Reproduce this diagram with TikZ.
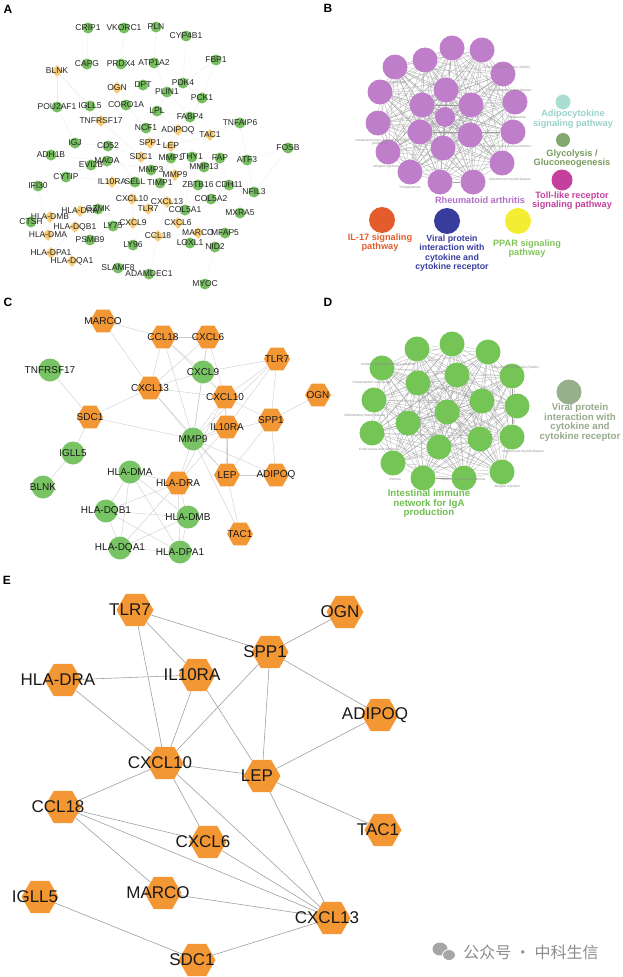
\documentclass[tikz,border=0pt]{standalone}
\usepackage{fontspec}
\setmainfont{Liberation Sans}
\newfontfamily\cjk{Noto Sans CJK SC}
\usetikzlibrary{shapes.geometric,backgrounds}
\definecolor{hexorange}{RGB}{243,150,52}
\definecolor{agreen}{RGB}{118,190,96}
\definecolor{ayellow}{RGB}{246,204,120}
\definecolor{cgreen}{RGB}{120,196,100}
\definecolor{bpurple}{RGB}{191,126,201}
\definecolor{dgreen}{RGB}{116,196,86}
\definecolor{adipoc}{RGB}{170,222,210}
\definecolor{adipot}{RGB}{150,210,200}
\definecolor{glycoc}{RGB}{130,168,110}
\definecolor{glycot}{RGB}{120,155,95}
\definecolor{tollc}{RGB}{196,64,156}
\definecolor{rheumt}{RGB}{180,110,200}
\definecolor{ilc}{RGB}{226,92,44}
\definecolor{viralc}{RGB}{56,60,156}
\definecolor{pparc}{RGB}{244,238,50}
\definecolor{ppart}{RGB}{130,196,90}
\definecolor{dviralc}{RGB}{150,176,140}
\definecolor{dviralt}{RGB}{150,170,140}
\definecolor{digat}{RGB}{112,190,80}

\def\circA{a-crip1/88/28/CRIP1, a-vkorc1/124/28/VKORC1, a-pln/156/27/PLN, a-cyp4b1/186/36/CYP4B1,
  a-capg/87/64/CAPG, a-prdx4/121/64/PRDX4, a-atp1a2/154/63/ATP1A2, a-fbp1/216/60/FBP1,
  a-dpt/143/85/DPT, a-pdk4/183/83/PDK4, a-plin1/167/92/PLIN1, a-pck1/202/98/PCK1,
  a-pou2af1/57/107/POU2AF1, a-igll5/90/106/IGLL5, a-coro1a/126/105/CORO1A, a-lpl/157/111/LPL,
  a-fabp4/190/117/FABP4, a-ncf1/146/128/NCF1, a-tnfaip6/240/123/TNFAIP6, a-igj/75/143/IGJ,
  a-cd52/108/146/CD52, a-fosb/288/148/FOSB, a-adh1b/51/155/ADH1B, a-maoa/107/161/MAOA,
  a-evi2b/91/165/EVI2B, a-mmp1/171/158/MMP1, a-thy1/192/157/THY1, a-fap/220/158/FAP,
  a-atf3/247/160/ATF3, a-mmp13/204/167/MMP13, a-mmp3/151/170/MMP3, a-cytip/66/177/CYTIP,
  a-ifi30/38/186/IFI30, a-sell/135/182/SELL, a-timp1/160/183/TIMP1, a-zbtb16/198/185/ZBTB16,
  a-cdh11/229/185/CDH11, a-nfil3/254/192/NFIL3, a-col5a2/211/199/COL5A2, a-col5a1/185/210/COL5A1,
  a-mxra5/240/213/MXRA5, a-gzmk/98/209/GZMK, a-ctsh/31/222/CTSH, a-ly75/113/226/LY75,
  a-psmb9/90/240/PSMB9, a-mfap5/225/233/MFAP5, a-loxl1/190/243/LOXL1, a-ly96/133/245/LY96,
  a-nid2/215/247/NID2, a-slamf8/118/268/SLAMF8, a-adamdec1/149/274/ADAMDEC1, a-myoc/205/284/MYOC}
\def\diamA{a-blnk/57/71/BLNK, a-ogn/117/88/OGN, a-tnfrsf17/101/121/TNFRSF17, a-adipoq/178/130/ADIPOQ,
  a-tac1/210/135/TAC1, a-spp1/150/143/SPP1, a-lep/171/146/LEP, a-sdc1/141/157/SDC1,
  a-mmp9/175/175/MMP9, a-il10ra/112/182/IL10RA, a-cxcl10/132/199/CXCL10, a-cxcl13/167/202/CXCL13,
  a-tlr7/148/209/TLR7, a-hladra/80/211/HLA-DRA, a-hladmb/50/217/HLA-DMB, a-hladqb1/75/227/HLA-DQB1,
  a-cxcl9/133/223/CXCL9, a-cxcl6/178/223/CXCL6, a-hladma/48/235/HLA-DMA, a-ccl18/158/236/CCL18,
  a-marco/198/233/MARCO, a-hladpa1/51/253/HLA-DPA1, a-hladqa1/72/261/HLA-DQA1}
\def\hexC{c-marco/103/321/MARCO, c-ccl18/163/337/CCL18, c-cxcl6/208/337/CXCL6, c-tlr7/277/359/TLR7,
  c-cxcl13/150/388/CXCL13, c-cxcl10/225/397/CXCL10, c-ogn/318/395/OGN, c-sdc1/90/417/SDC1,
  c-spp1/271/420/SPP1, c-il10ra/227/427/IL10RA, c-lep/227/475/LEP, c-adipoq/276/475/ADIPOQ,
  c-hladra/178/483/HLA-DRA, c-tac1/240/534/TAC1}
\def\circC{c-tnfrsf17/50/370/TNFRSF17, c-cxcl9/203/372/CXCL9, c-mmp9/193/439/MMP9, c-igll5/73/453/IGLL5,
  c-hladma/130/472/HLA-DMA, c-blnk/43/487/BLNK, c-hladqb1/106/511/HLA-DQB1, c-hladmb/188/517/HLA-DMB,
  c-hladqa1/120/548/HLA-DQA1, c-hladpa1/180/552/HLA-DPA1}
\def\hexE{e-tlr7/135/610/TLR7, e-spp1/270/652/SPP1, e-il10ra/197/675/IL10RA, e-hladra/63/680/HLA-DRA,
  e-cxcl10/165/763/CXCL10, e-lep/262/776/LEP, e-ogn/345/612/OGN, e-adipoq/380/715/ADIPOQ,
  e-ccl18/63/807/CCL18, e-cxcl6/208/842/CXCL6, e-marco/163/893/MARCO, e-igll5/40/897/IGLL5,
  e-sdc1/197/960/SDC1, e-cxcl13/332/918/CXCL13, e-tac1/383/830/TAC1}

\begin{document}
\begin{tikzpicture}[x=1pt, y=-1pt,
  panel/.style={font=\bfseries\fontsize{12}{12}\selectfont, inner sep=0pt},
  acirc/.style={circle, fill=agreen, minimum size=11pt, inner sep=0pt},
  adiam/.style={diamond, fill=ayellow, minimum size=12pt, inner sep=0pt},
  alab/.style={font=\fontsize{8.5}{8.5}\selectfont, text=black!85, inner sep=0pt},
  aedge/.style={draw=black!8, line width=0.3pt},
  bcirc/.style={circle, fill=bpurple, minimum size=25pt, inner sep=0pt},
  dcirc/.style={circle, fill=dgreen, minimum size=25pt, inner sep=0pt},
  bmesh/.style={draw=black!40, line width=0.2pt},
  minilab/.style={font=\fontsize{3.3}{3.3}\selectfont, text=black!45, inner sep=0pt},
  termlab/.style={font=\bfseries\fontsize{9.2}{9.5}\selectfont, align=center, inner sep=0pt},
  chex/.style={regular polygon, regular polygon sides=6, minimum size=26pt, inner sep=0pt, fill=hexorange},
  ccirc/.style={circle, fill=cgreen, minimum size=23pt, inner sep=0pt},
  clab/.style={font=\fontsize{10}{10}\selectfont, text=black!90, inner sep=0pt},
  cedge/.style={draw=black!20, line width=0.4pt},
  ehex/.style={regular polygon, regular polygon sides=6, minimum size=37pt, inner sep=0pt, fill=hexorange},
  elab/.style={font=\fontsize{17}{17}\selectfont, text=black!90, inner sep=0pt, xshift=-5pt},
  eedge/.style={draw=black!40, line width=0.55pt}]
\useasboundingbox (0,0) rectangle (623,977);

\node[panel] at (8,9) {A};
\node[panel] at (328,8) {B};
\node[panel] at (8,302) {C};
\node[panel] at (328,302) {D};
\node[panel] at (7,580) {E};

% A
\foreach \nm/\px/\py/\txt in \circA {\node[acirc] (\nm) at (\px,\py) {};}
\foreach \nm/\px/\py/\txt in \diamA {\node[adiam] (\nm) at (\px,\py) {};}
\begin{pgfonlayer}{background}
\foreach \u/\v in {a-crip1/a-capg, a-vkorc1/a-prdx4, a-pln/a-atp1a2, a-cyp4b1/a-pdk4, a-fbp1/a-pck1,
  a-fbp1/a-pdk4, a-atp1a2/a-plin1, a-blnk/a-pou2af1, a-blnk/a-igll5, a-blnk/a-tnfrsf17, a-pdk4/a-plin1,
  a-pdk4/a-pck1, a-plin1/a-lpl, a-plin1/a-fabp4, a-lpl/a-fabp4, a-pck1/a-fabp4, a-fabp4/a-adipoq,
  a-adipoq/a-lep, a-lpl/a-adipoq, a-lep/a-spp1, a-ogn/a-dpt, a-dpt/a-coro1a, a-coro1a/a-ncf1,
  a-ncf1/a-spp1, a-tnfrsf17/a-sdc1, a-igj/a-pou2af1, a-igj/a-cd52, a-cd52/a-sell, a-maoa/a-mmp3,
  a-sdc1/a-mmp9, a-mmp3/a-mmp1, a-mmp1/a-mmp9, a-mmp1/a-timp1, a-mmp9/a-timp1, a-mmp13/a-mmp9,
  a-thy1/a-fap, a-fap/a-mmp13, a-thy1/a-col5a1, a-col5a2/a-col5a1, a-col5a2/a-cdh11, a-cdh11/a-fap,
  a-atf3/a-fosb, a-atf3/a-nfil3, a-fosb/a-nfil3, a-tnfaip6/a-tac1, a-tnfaip6/a-atf3, a-cxcl10/a-cxcl9,
  a-cxcl10/a-tlr7, a-cxcl10/a-il10ra, a-cxcl10/a-cxcl13, a-cxcl13/a-ccl18, a-cxcl6/a-ccl18,
  a-marco/a-ccl18, a-ly96/a-tlr7, a-slamf8/a-adamdec1, a-hladra/a-hladmb, a-hladmb/a-hladma,
  a-hladqb1/a-hladpa1, a-hladqa1/a-hladpa1, a-hladra/a-hladqb1, a-ctsh/a-hladmb, a-ifi30/a-hladma,
  a-psmb9/a-ly75, a-gzmk/a-hladra, a-cytip/a-sell, a-evi2b/a-cytip, a-loxl1/a-mfap5, a-mfap5/a-nid2,
  a-nid2/a-myoc, a-mxra5/a-col5a2, a-zbtb16/a-mmp9, a-ly75/a-cxcl9, a-il10ra/a-sell, a-adh1b/a-maoa,
  a-lep/a-mmp9, a-tac1/a-lep, a-cxcl13/a-mmp9, a-cd52/a-sdc1, a-ccl18/a-adamdec1, a-psmb9/a-hladma}
  {\draw[aedge] (\u) -- (\v);}
\end{pgfonlayer}
\foreach \nm/\px/\py/\txt in \circA {\node[alab] at (\nm) {\txt};}
\foreach \nm/\px/\py/\txt in \diamA {\node[alab] at (\nm) {\txt};}

% B
\foreach \i/\px/\py in {1/452/48, 2/482/50, 3/425/60, 4/503/74, 5/395/67, 6/446/90, 7/380/92,
  8/515/102, 9/422/105, 10/471/105, 12/378/123, 13/420/132, 14/470/135, 15/513/132, 16/388/152,
  17/443/148, 18/502/163, 19/410/172, 20/440/182, 21/473/182}
  {\node[bcirc] (b\i) at (\px,\py) {};}
\node[bcirc, minimum size=20pt] (b11) at (445,117) {};
\begin{pgfonlayer}{background}
\foreach \i in {1,...,20}{
  \pgfmathtruncatemacro{\jfirst}{\i+1}
  \foreach \j in {\jfirst,...,21}{\draw[bmesh] (b\i) -- (b\j);}}
\end{pgfonlayer}
\node[minilab] at (410,188) {Toxoplasmosis};
\node[minilab] at (386,167) {Allograft rejection};
\node[minilab, align=center] at (380,142) {Intestinal immune network for IgA\\production};
\node[minilab] at (395,82) {Leishmaniasis};
\node[minilab] at (506,68) {Cell adhesion molecules (CAMs)};
\node[minilab] at (511,91) {Inflammatory bowel disease};
\node[minilab] at (517,118) {Phagosome};
\node[minilab] at (507,147) {Staphylococcus aureus infection};
\node[minilab] at (510,180) {Autoimmune thyroid disease};

\node[circle, fill=adipoc, minimum size=15pt, inner sep=0pt] (b-adipo) at (563,102) {};
\node[termlab, text=adipot] at (573,119) {Adipocytokine\\signaling pathway};
\node[circle, fill=glycoc, minimum size=14pt, inner sep=0pt] (b-glyco) at (563,140) {};
\node[termlab, text=glycot] at (572,158.5) {Glycolysis /\\Gluconeogenesis};
\node[circle, fill=tollc, minimum size=21pt, inner sep=0pt] (b-toll) at (562,180) {};
\node[termlab, text=tollc] at (572,200.5) {Toll-like receptor\\signaling pathway};
\node[termlab, text=rheumt] at (480,200) {Rheumatoid arthritis};
\node[circle, fill=ilc, minimum size=26pt, inner sep=0pt] (b-il17) at (382,220) {};
\node[termlab, text=ilc] at (380,242.5) {IL-17 signaling\\pathway};
\node[circle, fill=viralc, minimum size=26pt, inner sep=0pt] (b-viral) at (447,221) {};
\node[termlab, text=viralc, font=\bfseries\fontsize{8.8}{9.5}\selectfont] at (452,253) {Viral protein\\interaction with\\cytokine and\\cytokine receptor};
\node[circle, fill=pparc, minimum size=26pt, inner sep=0pt] (b-ppar) at (518,221) {};
\node[termlab, text=ppart] at (527,248.5) {PPAR signaling\\pathway};

% C
\foreach \nm/\px/\py/\txt in \hexC {\node[chex] (\nm) at (\px,\py) {};}
\foreach \nm/\px/\py/\txt in \circC {\node[ccirc] (\nm) at (\px,\py) {};}
\begin{pgfonlayer}{background}
\foreach \u/\v in {c-tlr7/c-spp1, c-tlr7/c-il10ra, c-tlr7/c-cxcl10, c-spp1/c-ogn, c-spp1/c-adipoq,
  c-spp1/c-cxcl10, c-spp1/c-lep, c-il10ra/c-hladra, c-il10ra/c-cxcl10, c-il10ra/c-lep,
  c-hladra/c-cxcl10, c-cxcl10/c-lep, c-cxcl10/c-ccl18, c-cxcl10/c-cxcl6, c-cxcl10/c-cxcl13,
  c-lep/c-adipoq, c-lep/c-tac1, c-lep/c-cxcl13, c-ccl18/c-cxcl6, c-ccl18/c-marco, c-ccl18/c-cxcl13,
  c-cxcl6/c-cxcl13, c-marco/c-cxcl13, c-sdc1/c-cxcl13, c-igll5/c-sdc1, c-tnfrsf17/c-sdc1,
  c-igll5/c-blnk, c-sdc1/c-mmp9, c-cxcl9/c-tlr7, c-cxcl9/c-cxcl13, c-cxcl9/c-cxcl10, c-cxcl9/c-mmp9,
  c-cxcl9/c-cxcl6, c-cxcl9/c-ccl18, c-mmp9/c-cxcl13, c-mmp9/c-cxcl10, c-mmp9/c-il10ra, c-mmp9/c-lep,
  c-mmp9/c-adipoq, c-mmp9/c-tac1, c-mmp9/c-hladra, c-mmp9/c-ccl18, c-mmp9/c-cxcl6, c-mmp9/c-spp1,
  c-mmp9/c-tlr7, c-hladma/c-hladra, c-hladma/c-hladqb1, c-hladma/c-hladmb, c-hladma/c-hladqa1,
  c-hladma/c-hladpa1, c-hladra/c-hladqb1, c-hladra/c-hladmb, c-hladra/c-hladqa1, c-hladra/c-hladpa1,
  c-hladqb1/c-hladmb, c-hladqb1/c-hladqa1, c-hladqb1/c-hladpa1, c-hladmb/c-hladqa1,
  c-hladmb/c-hladpa1, c-hladqa1/c-hladpa1}
  {\draw[cedge] (\u) -- (\v);}
\end{pgfonlayer}
\foreach \nm/\px/\py/\txt in \hexC {\node[clab] at (\nm) {\txt};}
\foreach \nm/\px/\py/\txt in \circC {\node[clab] at (\nm) {\txt};}

% D
\foreach \i/\px/\py in {1/452/344, 2/417/349, 3/488/352, 4/382/368, 5/457/375, 6/512/376,
  7/418/383, 8/374/400, 9/482/401, 10/517/406, 11/447/412, 12/408/423, 13/372/433, 14/480/439,
  15/512/437, 16/439/447, 17/393/463, 18/423/478, 19/464/478, 20/502/472}
  {\node[dcirc] (d\i) at (\px,\py) {};}
\begin{pgfonlayer}{background}
\foreach \i in {1,...,19}{
  \pgfmathtruncatemacro{\jfirst}{\i+1}
  \foreach \j in {\jfirst,...,20}{\draw[bmesh] (d\i) -- (d\j);}}
\end{pgfonlayer}
\node[minilab] at (388,365) {Antigen processing and presentation};
\node[minilab] at (515,368) {Cell adhesion molecules (CAMs)};
\node[minilab] at (372,383) {Hematopoietic cell lineage};
\node[minilab] at (365,416) {Inflammatory bowel disease};
\node[minilab] at (378,449) {Graft-versus-host disease};
\node[minilab] at (395,479) {Asthma};
\node[minilab] at (463,480) {Systemic lupus erythematosus};
\node[minilab] at (507,487) {Allograft rejection};
\node[minilab] at (523,452) {Autoimmune thyroid disease};
\node[circle, fill=dviralc, minimum size=25pt, inner sep=0pt] (d-viral) at (569,392) {};
\node[termlab, text=dviralt, font=\bfseries\fontsize{9.7}{9.5}\selectfont] at (580,422.5) {Viral protein\\interaction with\\cytokine and\\cytokine receptor};
\node[termlab, text=digat, font=\bfseries\fontsize{9.7}{9.5}\selectfont] at (429,503.5) {Intestinal immune\\network for IgA\\production};

% E
\foreach \nm/\px/\py/\txt in \hexE {\node[ehex] (\nm) at (\px,\py) {};}
\begin{pgfonlayer}{background}
\foreach \u/\v in {e-tlr7/e-spp1, e-tlr7/e-il10ra, e-tlr7/e-cxcl10, e-spp1/e-ogn, e-spp1/e-adipoq,
  e-spp1/e-cxcl10, e-spp1/e-lep, e-il10ra/e-hladra, e-il10ra/e-cxcl10, e-il10ra/e-lep,
  e-hladra/e-cxcl10, e-cxcl10/e-lep, e-cxcl10/e-ccl18, e-cxcl10/e-cxcl6, e-cxcl10/e-cxcl13,
  e-lep/e-adipoq, e-lep/e-tac1, e-lep/e-cxcl13, e-ccl18/e-cxcl6, e-ccl18/e-marco, e-ccl18/e-cxcl13,
  e-cxcl6/e-cxcl13, e-marco/e-cxcl13, e-igll5/e-sdc1, e-sdc1/e-cxcl13}
  {\draw[eedge] (\u) -- (\v);}
\end{pgfonlayer}
\foreach \nm/\px/\py/\txt in \hexE {\node[elab] at (\nm) {\txt};}

\fill[black!35] (440,949) ellipse (7.5 and 6.5);
\fill[black!35, draw=white, line width=0.8pt] (449,955) ellipse (6.5 and 5.5);
\node[font=\cjk\fontsize{16}{16}\selectfont, text=black!45, inner sep=0pt] (wm) at (531,952) {公众号 · 中科生信};
\end{tikzpicture}
\end{document}
